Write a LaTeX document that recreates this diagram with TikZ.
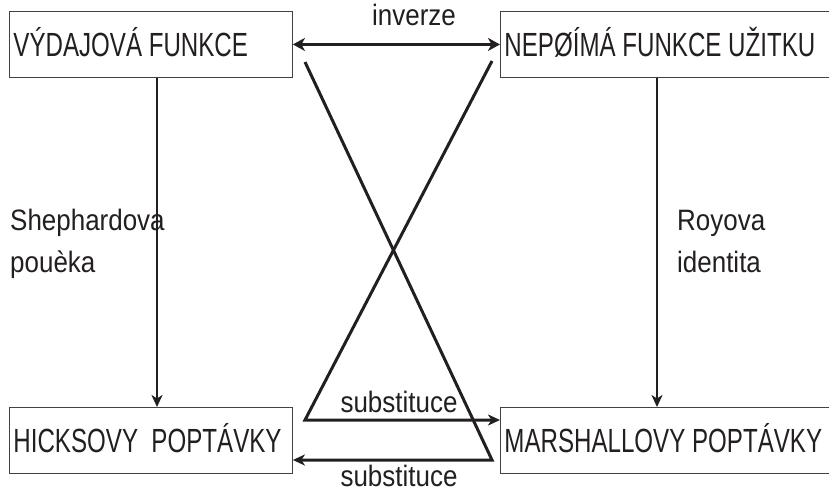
\documentclass[tikz,border=0pt]{standalone}
\usepackage{fontspec}
\setmainfont{Liberation Sans}
\newfontfamily\boxfont[FakeStretch=0.72]{Liberation Sans}
\newfontfamily\labfont[FakeStretch=0.88]{Liberation Sans}
\usetikzlibrary{arrows.meta}
\definecolor{ink}{HTML}{231F20}
\newcommand{\lbox}[2]{\makebox[#1][l]{#2}}
\begin{document}
\begin{tikzpicture}[x=1pt,y=-1pt,
  box/.style={draw=ink!85, line width=0.9pt, anchor=north west, minimum height=66pt,
    inner xsep=4pt, inner ysep=0pt, text height=24pt, text depth=0pt,
    font=\boxfont\fontsize{33.5}{36}\selectfont, text=ink},
  lab/.style={inner sep=0pt, font=\labfont\fontsize{29.5}{32}\selectfont, text=ink},
  tip/.style={-{Stealth[length=12pt,width=11pt,inset=3.5pt]}},
  vline/.style={draw=ink, line width=2pt, tip},
  diag/.style={draw=ink, line width=3pt, line join=miter, tip},
  dbl/.style={draw=ink, line width=3pt, {Stealth[length=12pt,width=13pt,inset=3.5pt]}-{Stealth[length=12pt,width=13pt,inset=3.5pt]}}
]
\useasboundingbox (0,0) rectangle (829,492);
\fill[white] (0,0) rectangle (829,492);

\node[box] (b1) at (9,11) {\lbox{275pt}{VÝDAJOVÁ FUNKCE}};
\node[box] (b2) at (500,11) {\lbox{324pt}{NEPØÍMÁ FUNKCE UŽITKU}};
\node[box] (b3) at (9,407) {\lbox{275pt}{HICKSOVY\ \ POPTÁVKY}};
\node[box] (b4) at (500,407) {\lbox{324pt}{MARSHALLOVY POPTÁVKY}};

\coordinate (lx) at (157,0);
\coordinate (rx) at (657,0);
\coordinate (tl) at (305,62);
\coordinate (tr) at (492,61);
\coordinate (bl) at (305,420);
\coordinate (br) at (492,460);

\draw[dbl] (b1.east) -- (b2.west);
\draw[vline] (b1.south -| lx) -- (b3.north -| lx);
\draw[vline] (b2.south -| rx) -- (b4.north -| rx);
\draw[diag] (tr) -- (bl) -- (bl -| b4.west);
\draw[diag] (tl) -- (br) -- (br -| b3.east);

\node[lab, anchor=base] (inv) at (414,26) {inverze};
\node[lab, anchor=base west] (sh1) at (10,230) {Shephardova};
\node[lab, anchor=base west] (sh2) at (10,272) {pouèka};
\node[lab, anchor=base west] (ro1) at (677,230) {Royova};
\node[lab, anchor=base west] (ro2) at (677,272) {identita};
\node[lab, anchor=base] (su1) at (399,412) {substituce};
\node[lab, anchor=base] (su2) at (399,486) {substituce};
\end{tikzpicture}
\end{document}
